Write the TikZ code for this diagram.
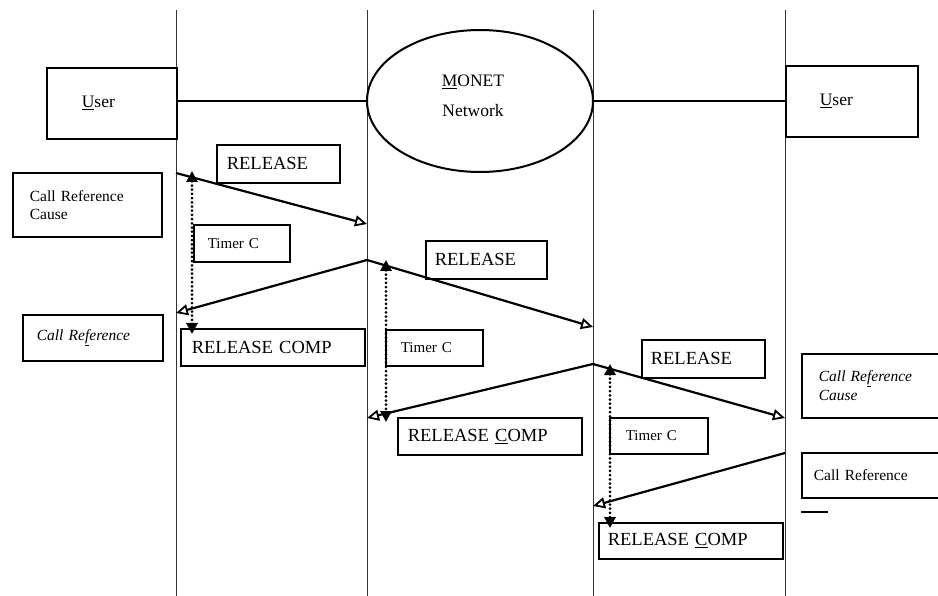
\documentclass[tikz,border=0pt]{standalone}
\usepackage{fontspec}
\setmainfont{Liberation Serif}
\usetikzlibrary{arrows.meta,shapes.geometric}
\tikzset{
  lifeline/.style={line width=1pt, draw=black!80},
  link/.style={line width=1.6pt},
  msg/.style={line width=2.2pt, -{Triangle[open, length=12pt, width=11pt, line width=1.8pt]}},
  timer/.style={line width=3pt, line cap=round, dash pattern=on 0pt off 4.2pt,
    {Triangle[length=11pt, width=11pt]}-{Triangle[length=11pt, width=11pt]}},
  tbox/.style={draw, fill=white, line width=1.7pt, anchor=north west, align=left, inner ysep=0pt},
  bigtxt/.style={font=\fontsize{18.5pt}{20pt}\selectfont},
  midtxt/.style={font=\fontsize{15.5pt}{18pt}\selectfont},
  smalltxt/.style={font=\fontsize{15pt}{17pt}\selectfont},
  ittxt/.style={font=\fontsize{15.5pt}{19pt}\selectfont\itshape},
}
\begin{document}
\begin{tikzpicture}[x=1pt, y=-1pt]
\useasboundingbox (0,0) rectangle (938,596);
\clip (0,0) rectangle (938,596);

% lifelines
\coordinate (l1t) at (176,10);  \coordinate (l1b) at (176,596);
\coordinate (l2t) at (367,10);  \coordinate (l2b) at (367,596);
\coordinate (l3t) at (593,10);  \coordinate (l3b) at (593,596);
\coordinate (l4t) at (785,10);  \coordinate (l4b) at (785,596);
\draw[lifeline] (l1t) -- (l1b);
\draw[lifeline] (l2t) -- (l2b);
\draw[lifeline] (l3t) -- (l3b);
\draw[lifeline] (l4t) -- (l4b);

% end points and the network
\node[tbox, font=\fontsize{17.5pt}{19pt}\selectfont, minimum height=71pt, text width=60pt, inner xsep=35pt]
  (userL) at (46,67) {\underline{U}ser};
\node[tbox, font=\fontsize{17.5pt}{19pt}\selectfont, minimum height=71pt, text width=64pt, inner xsep=34pt]
  (userR) at (785,65) {\underline{U}ser};
\node[ellipse, draw, fill=white, line width=2pt, minimum width=226pt, minimum height=142pt,
  inner sep=0pt] (net) at (480,101) {};
\node[align=center, font=\fontsize{17.5pt}{30pt}\selectfont, inner sep=0pt]
  (netlbl) at (473,96) {\underline{M}ONET\\Network};
\draw[link] (userL.east |- 0,101) -- (net.west);
\draw[link] (net.east) -- (userR.west |- 0,101);

% parameter boxes
\node[tbox, midtxt, minimum height=64pt, text width=115pt, inner xsep=17pt]
  (crc1) at (12,172) {Call Reference\\Cause};
\node[tbox, ittxt, minimum height=46pt, text width=112pt, inner xsep=14pt]
  (cr1) at (22,314) {Call Re\underline{f}erence};
\node[tbox, ittxt, minimum height=64pt, text width=126pt, inner xsep=17pt]
  (crc2) at (801,353) {Call Re\underline{f}erence\\Cause};
\node[tbox, midtxt, minimum height=45pt, text width=136pt, inner xsep=12pt]
  (cr2) at (801,452) {Call Reference};

% message labels
\node[tbox, bigtxt, minimum height=38pt, text width=103pt, inner xsep=10pt] (rel1) at (216,144) {RELEASE};
\node[tbox, bigtxt, minimum height=38pt, text width=103pt, inner xsep=9pt] (rel2) at (425,240) {RELEASE};
\node[tbox, bigtxt, minimum height=38pt, text width=105pt, inner xsep=9pt]  (rel3) at (641,339) {RELEASE};
\node[tbox, bigtxt, minimum height=37pt, text width=162pt, inner xsep=11pt] (rc1) at (180,328) {RELEASE COMP};
\node[tbox, bigtxt, minimum height=37pt, text width=164pt, inner xsep=10pt] (rc2) at (397,417) {RELEASE \underline{C}OMP};
\node[tbox, bigtxt, minimum height=36pt, text width=166pt, inner xsep=9pt] (rc3) at (598,522) {RELEASE \underline{C}OMP};

% timer labels
\node[tbox, smalltxt, minimum height=37pt, text width=68pt, inner xsep=14pt] (tim1) at (193,224) {Timer C};
\node[tbox, smalltxt, minimum height=36pt, text width=67pt, inner xsep=15pt] (tim2) at (385,329) {Timer C};
\node[tbox, smalltxt, minimum height=36pt, text width=66pt, inner xsep=16pt] (tim3) at (609,417) {Timer C};

% message end points on the lifelines
\coordinate (m1s) at (176,173); \coordinate (m1e) at (367,224);
\coordinate (m2s) at (367,260); \coordinate (m2e) at (176,313);
\coordinate (m3e) at (593,327);
\coordinate (m4s) at (593,364); \coordinate (m4e) at (367,418);
\coordinate (m5e) at (785,418);
\coordinate (m6s) at (785,453); \coordinate (m6e) at (593,506);

\draw[msg] (m1s) -- (m1e);
\draw[msg] (m2s) -- (m2e);
\draw[msg] (m2s) -- (m3e);
\draw[msg] (m4s) -- (m4e);
\draw[msg] (m4s) -- (m5e);
\draw[msg] (m6s) -- (m6e);

% timer spans
\coordinate (t1a) at (192,171); \coordinate (t1b) at (192,334);
\coordinate (t2a) at (386,260); \coordinate (t2b) at (386,422);
\coordinate (t3a) at (610,364); \coordinate (t3b) at (610,528);
\draw[timer] (t1a) -- (t1b);
\draw[timer] (t2a) -- (t2b);
\draw[timer] (t3a) -- (t3b);

% short mark below the last parameter box
\coordinate (d1) at (801,512); \coordinate (d2) at (828,512);
\draw[line width=2.4pt] (d1) -- (d2);
\end{tikzpicture}
\end{document}
